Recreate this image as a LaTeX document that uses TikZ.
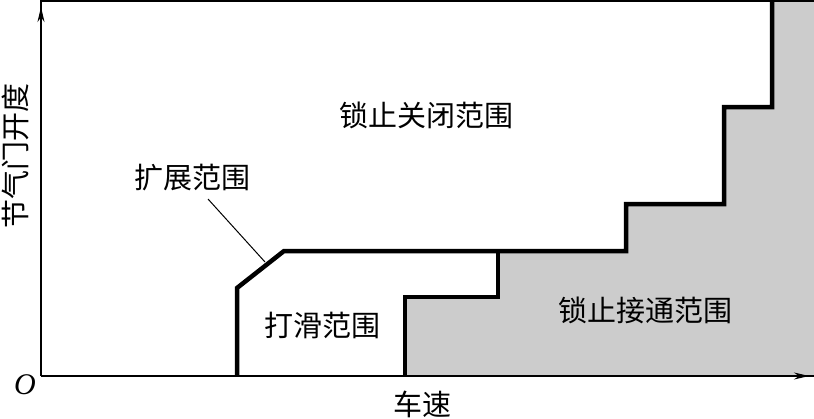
\documentclass[tikz,border=0pt]{standalone}
\usepackage{fontspec}
\setmainfont{Liberation Serif}
\newfontfamily\cjk{Noto Sans CJK SC}
\usetikzlibrary{arrows.meta}
\definecolor{lockgray}{RGB}{204,204,204}
\begin{document}
\begin{tikzpicture}[x=1pt,y=-1pt,
  lbl/.style={font=\cjk\fontsize{29}{32}\selectfont, inner sep=0pt},
  axis/.style={line width=2pt},
  bound/.style={line width=4.5pt, line join=miter},
  leader/.style={line width=1pt},
  tip/.style={line width=2pt, -{Stealth[length=15pt,width=7pt]}}]
\useasboundingbox (0,0) rectangle (814,418);
% locked-on region
\fill[lockgray] (405,376) -- (405,297) -- (498,297) -- (498,251) -- (626,251)
  -- (626,204) -- (724,204) -- (724,107) -- (772,107) -- (772,0) -- (814,0)
  -- (814,376) -- cycle;
% boundary coordinates
\coordinate (b0) at (237,376);
\coordinate (b1) at (237,288);
\coordinate (b2) at (284,251);
\coordinate (b3) at (626,251);
\coordinate (b4) at (626,204);
\coordinate (b5) at (724,204);
\coordinate (b6) at (724,107);
\coordinate (b7) at (772,107);
\coordinate (b8) at (772,0);
\coordinate (c0) at (498,251);
\coordinate (c1) at (498,297);
\coordinate (c2) at (405,297);
\coordinate (c3) at (405,376);
\draw[bound] (b0) -- (b1) -- (b2) -- (b3) -- (b4) -- (b5) -- (b6) -- (b7) -- (b8);
\draw[bound] (c0) -- (c1) -- (c2) -- (c3);
% axes
\coordinate (origin) at (41,376);
\coordinate (ytop) at (41,1);
\coordinate (xtopend) at (814,1);
\coordinate (xend) at (814,376);
\draw[axis] (origin) -- (ytop) -- (xtopend);
\draw[axis] (origin) -- (xend);
\coordinate (ya) at (41,32);
\coordinate (yb) at (41,7);
\coordinate (xa) at (782,376);
\coordinate (xb) at (809,376);
\draw[tip] (ya) -- (yb);
\draw[tip] (xa) -- (xb);
% labels
\node[lbl] (off) at (426,115) {锁止关闭范围};
\node[lbl] (ext) at (192,178) {扩展范围};
\node[lbl] (slip) at (322,325) {打滑范围};
\node[lbl] (on) at (645,310) {锁止接通范围};
\node[lbl] (xlab) at (422,404) {车速};
\node[lbl, rotate=90] (ylab) at (15,156) {节气门开度};
\node[font=\itshape\fontsize{30}{30}\selectfont, inner sep=0pt] (o) at (25,385) {O};
% leader
\coordinate (ls) at (208,199);
\coordinate (le) at (265,262);
\draw[leader] (ls) -- (le);
\end{tikzpicture}
\end{document}
